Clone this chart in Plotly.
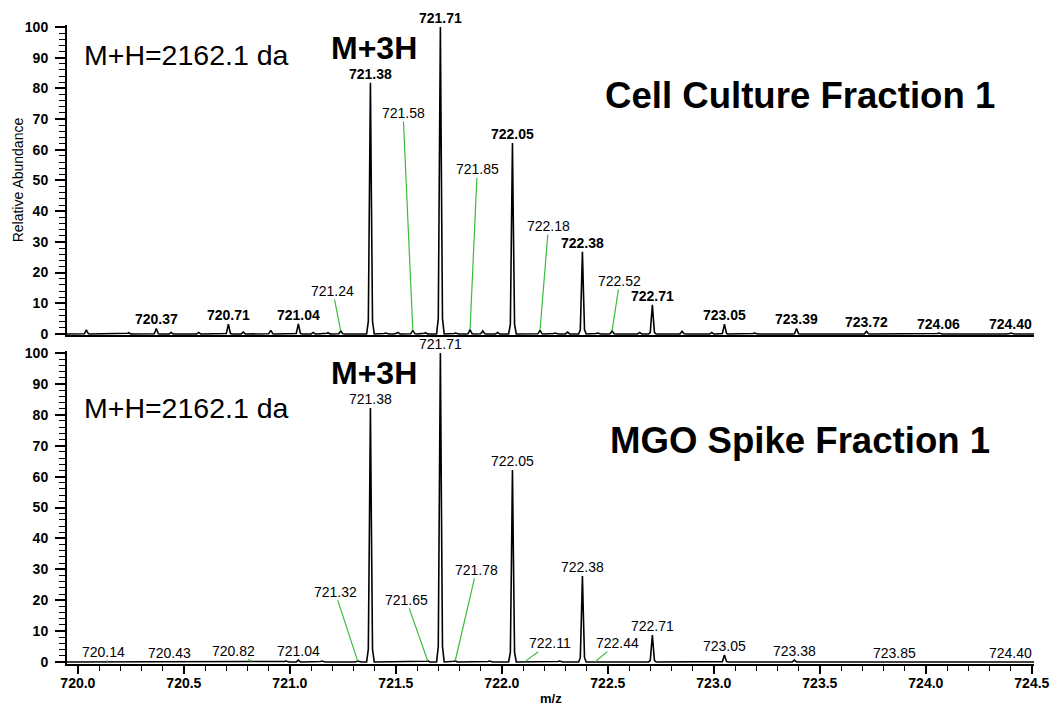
import plotly.graph_objects as go

# ---------------- data ----------------
top_mz = [720.04, 720.24, 720.37, 720.44, 720.57, 720.71, 720.78, 720.91, 721.04, 721.11,
          721.18, 721.24, 721.38, 721.45, 721.51, 721.58, 721.64, 721.71, 721.78, 721.85,
          721.91, 721.98, 722.05, 722.18, 722.25, 722.31, 722.38, 722.45, 722.52, 722.65,
          722.71, 722.85, 722.99, 723.05, 723.19, 723.39, 723.72, 724.06, 724.40]
top_int = [1.3, 0.4, 1.8, 0.5, 0.5, 3.2, 0.6, 1.2, 3.3, 0.5,
           0.4, 1.0, 81.8, 0.3, 0.5, 1.2, 0.4, 100.0, 0.3, 1.4,
           1.0, 0.5, 62.2, 1.2, 0.3, 0.6, 26.8, 0.3, 1.0, 0.5,
           9.5, 0.9, 0.5, 3.2, 0.3, 1.8, 0.9, 0.3, 0.3]

bot_mz = [720.14, 720.43, 720.82, 720.98, 721.04, 721.15, 721.32, 721.38, 721.65, 721.71,
          721.78, 721.94, 722.05, 722.11, 722.27, 722.38, 722.44, 722.71, 723.05, 723.38,
          723.85, 724.40]
bot_int = [0.1, 0.1, 0.2, 0.3, 0.6, 0.3, 0.3, 82.2, 0.4, 100.0,
           0.4, 0.3, 62.1, 0.2, 0.3, 27.8, 0.1, 8.7, 2.3, 0.6,
           0.1, 0.1]

# labelled peaks (plain labels above the peak)
top_labels = [720.37, 720.71, 721.04, 721.38, 721.71, 722.05, 722.38, 722.71,
              723.05, 723.39, 723.72, 724.06, 724.40]
bot_labels = [720.43, 721.04, 721.38, 721.71, 722.05, 722.38, 722.71,
              723.05, 723.38, 723.85, 724.40]
# labelled peaks with a green leader line
top_leader = [721.24, 721.58, 721.85, 722.18, 722.52]
bot_leader = [720.14, 720.82, 721.32, 721.65, 721.78, 722.11, 722.44]

panel_titles = ["Cell Culture Fraction 1", "MGO Spike Fraction 1"]
mass_note = "M+H=2162.1 da"
charge_note = "M+3H"

# ---------------- layout geometry (styling) ----------------
W, H = 1062, 706
ML, MR, MT, MB = 67, 17, 25, 42
X_RANGE = [719.9487, 724.5102]
TOP_Y = [-0.49, 100.65]
BOT_Y = [-0.65, 100.65]
TOP_DOM = [0.5141, 1.0]
BOT_DOM = [0.0, 0.4898]
# text positions of leader labels (x, y in data units)
top_leader_text = [(721.203, 14.0), (721.534, 72.0), (721.884, 53.7), (722.220, 35.2), (722.556, 17.3)]
bot_leader_text = [(720.121, 3.3), (720.732, 3.6), (721.213, 22.7), (721.549, 20.1),
                   (721.880, 29.8), (722.225, 6.1), (722.547, 6.1)]

FONT = "Arial, Liberation Sans, sans-serif"
GREEN = "#3dbb3d"
HALF_W = 0.018
SHAPE_DX = [-1.0, -0.55, -0.25, 0.0, 0.25, 0.55, 1.0]
SHAPE_FY = [0.0, 0.05, 0.55, 1.0, 0.55, 0.05, 0.0]


def profile(mz, inten):
    xs, ys = [X_RANGE[0]], [0.0]
    for c, h in sorted(zip(mz, inten)):
        for dx, fy in zip(SHAPE_DX, SHAPE_FY):
            xs.append(c + dx * HALF_W)
            ys.append(h * fy)
    xs.append(X_RANGE[1])
    ys.append(0.0)
    return xs, ys


fig = go.Figure()
tx, ty = profile(top_mz, top_int)
bx, by = profile(bot_mz, bot_int)
fig.add_trace(go.Scatter(x=tx, y=ty, mode="lines", line=dict(color="black", width=1.6),
                         xaxis="x", yaxis="y", hoverinfo="skip"))
fig.add_trace(go.Scatter(x=bx, y=by, mode="lines", line=dict(color="black", width=1.6),
                         xaxis="x2", yaxis="y2", hoverinfo="skip"))

ann = []


def lookup(mz, mzs, ints):
    i = min(range(len(mzs)), key=lambda k: abs(mzs[k] - mz))
    return ints[i]


def plain_labels(labels, mzs, ints, xr, yr, bold):
    for m in labels:
        h = lookup(m, mzs, ints)
        txt = f"<b>{m:.2f}</b>" if bold else f"{m:.2f}"
        ann.append(dict(x=m, y=h, xref=xr, yref=yr, text=txt, showarrow=False,
                        yanchor="bottom", xanchor="center", yshift=-1,
                        font=dict(family=FONT, size=14, color="black")))


def leader_labels(labels, pos, mzs, ints, xr, yr):
    for m, (axv, ayv) in zip(labels, pos):
        h = lookup(m, mzs, ints)
        ann.append(dict(x=m, y=h, xref=xr, yref=yr, ax=axv, ay=ayv, axref=xr, ayref=yr,
                        text=f"{m:.2f}", showarrow=True, arrowhead=0, arrowwidth=1.2,
                        arrowcolor=GREEN, standoff=0, borderpad=0,
                        font=dict(family=FONT, size=14, color="black")))


plain_labels(top_labels, top_mz, top_int, "x", "y", True)
plain_labels(bot_labels, bot_mz, bot_int, "x2", "y2", False)
leader_labels(top_leader, top_leader_text, top_mz, top_int, "x", "y")
leader_labels(bot_leader, bot_leader_text, bot_mz, bot_int, "x2", "y2")

# notes in each panel
for xr, yr, title, ty_title, ty_mass, ty_charge in [("x", "y", panel_titles[0], 77.7, 90.9, 93.2),
                                                    ("x2", "y2", panel_titles[1], 71.8, 82.2, 93.5)]:
    ann.append(dict(x=723.405, y=ty_title, xref=xr, yref=yr, text=f"<b>{title}</b>",
                    showarrow=False, xanchor="center", yanchor="middle",
                    font=dict(family=FONT, size=36.6, color="black")))
    ann.append(dict(x=720.513, y=ty_mass, xref=xr, yref=yr, text=mass_note,
                    showarrow=False, xanchor="center", yanchor="middle",
                    font=dict(family=FONT, size=28.5, color="black")))
    ann.append(dict(x=721.395, y=ty_charge, xref=xr, yref=yr, text=f"<b>{charge_note}</b>",
                    showarrow=False, xanchor="center", yanchor="middle",
                    font=dict(family=FONT, size=32, color="black")))

# axis titles
ann.append(dict(x=-0.0506, y=(TOP_DOM[0] + TOP_DOM[1]) / 2, xref="paper", yref="paper",
                text="Relative Abundance", textangle=-90, showarrow=False,
                xanchor="center", yanchor="middle",
                font=dict(family=FONT, size=14, color="black")))
ann.append(dict(x=0.5, y=(H - MB - 699) / (H - MT - MB), xref="paper", yref="paper",
                text="<b>m/z</b>", showarrow=False, xanchor="center", yanchor="middle",
                font=dict(family=FONT, size=13, color="black")))

yaxis_common = dict(
    tickmode="linear", tick0=0, dtick=10, ticks="outside", ticklen=10, tickwidth=1.5,
    tickcolor="black", showline=True, linecolor="black", linewidth=2, showgrid=False,
    zeroline=False, tickfont=dict(family=FONT, size=14, color="black", weight="bold"),
    ticklabelstandoff=4,
    minor=dict(dtick=2, tick0=0, ticks="outside", ticklen=6, tickwidth=1.2, tickcolor="black",
               showgrid=False),
)

fig.update_layout(
    width=W, height=H, margin=dict(l=ML, r=MR, t=MT, b=MB),
    paper_bgcolor="white", plot_bgcolor="white", showlegend=False,
    xaxis=dict(domain=[0, 1], range=X_RANGE, anchor="y", showline=True, linecolor="black",
               linewidth=2, showticklabels=False, ticks="", showgrid=False, zeroline=False),
    xaxis2=dict(domain=[0, 1], range=X_RANGE, anchor="y2", showline=True, linecolor="black",
                linewidth=2, showgrid=False, zeroline=False, tickmode="linear", tick0=720,
                dtick=0.5, tickformat=".1f", ticks="outside", ticklen=8, tickwidth=1.5,
                tickcolor="black", ticklabelstandoff=-3,
                tickfont=dict(family=FONT, size=14, color="black", weight="bold"),
                minor=dict(dtick=0.1, tick0=720, ticks="outside", ticklen=5, tickwidth=1.2,
                           tickcolor="black", showgrid=False)),
    yaxis=dict(domain=TOP_DOM, range=TOP_Y, anchor="x", **yaxis_common),
    yaxis2=dict(domain=BOT_DOM, range=BOT_Y, anchor="x2", **yaxis_common),
    annotations=ann,
)

fig.write_html("out.html")
